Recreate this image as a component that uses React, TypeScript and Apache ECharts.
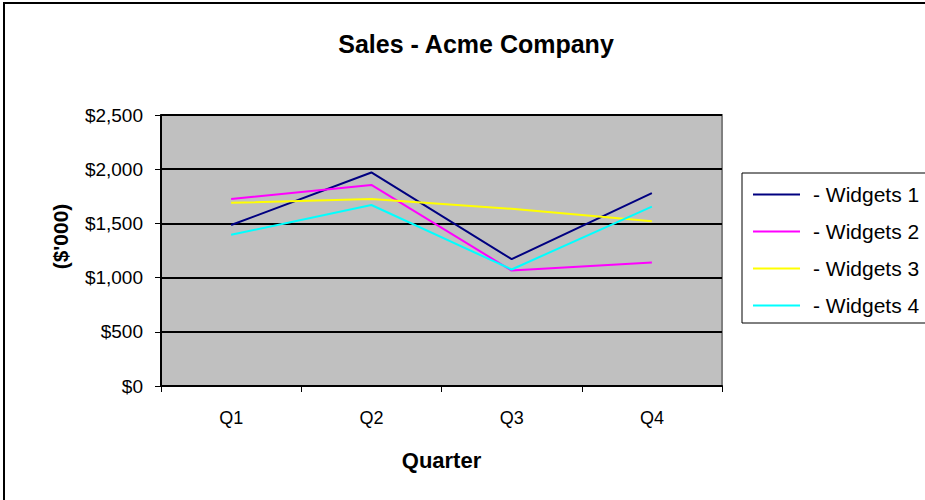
import React, { useEffect, useRef } from "react";
import * as echarts from "echarts";

const quarters = ["Q1", "Q2", "Q3", "Q4"];
const widgets1 = [1485, 1970, 1170, 1780];
const widgets2 = [1725, 1855, 1065, 1140];
const widgets3 = [1690, 1725, 1635, 1520];
const widgets4 = [1395, 1670, 1075, 1655];
const seriesNames = ["Widgets 1", "Widgets 2", "Widgets 3", "Widgets 4"];
const seriesColors = ["#000080", "#FF00FF", "#FFFF00", "#00FFFF"];
const yTicks = { min: 0, max: 2500, interval: 500 };

const FONT = "Arial, 'Liberation Sans', sans-serif";

export default function App() {
  const ref = useRef<HTMLDivElement>(null);
  useEffect(() => {
    if (!ref.current) return;
    const chart = echarts.init(ref.current, null, { renderer: "svg" });
    const data = [widgets1, widgets2, widgets3, widgets4];
    chart.setOption({
      animation: false,
      backgroundColor: "#ffffff",
      textStyle: { fontFamily: FONT },
      title: {
        text: "Sales - Acme Company",
        left: 471,
        top: 26,
        textAlign: "center",
        textStyle: { fontSize: 25, fontWeight: "bold", color: "#000", fontFamily: FONT },
      },
      graphic: [
        {
          type: "rect",
          shape: { x: 4, y: 3, width: 1000, height: 1000 },
          style: { fill: "none", stroke: "#000", lineWidth: 2 },
          silent: true,
          z: 100,
        },
        {
          type: "rect",
          shape: { x: 161, y: 115, width: 561, height: 271 },
          style: { fill: "none", stroke: "#808080", lineWidth: 2 },
          silent: true,
          z: 0,
        },
      ],
      legend: {
        orient: "vertical",
        left: 742,
        top: 173,
        padding: [11, 60, 7, 10],
        itemWidth: 47,
        itemHeight: 21,
        itemGap: 16,
        backgroundColor: "#ffffff",
        borderColor: "#000",
        borderWidth: 1,
        data: seriesNames,
        itemStyle: { opacity: 0 },
        lineStyle: { width: 2 },
        formatter: (name: string) => "- " + name,
        textStyle: { fontSize: 21, color: "#000", lineHeight: 21, padding: [0, 0, 0, 8], fontFamily: FONT },
      },
      grid: {
        left: 161,
        right: 203,
        top: 115,
        bottom: 114,
        show: true,
        backgroundColor: "#C0C0C0",
        borderWidth: 0,
      },
      xAxis: {
        type: "category",
        data: quarters,
        boundaryGap: true,
        name: "Quarter",
        nameLocation: "middle",
        nameGap: 63,
        nameTextStyle: { fontSize: 22, fontWeight: "bold", color: "#000", fontFamily: FONT },
        axisLine: { lineStyle: { color: "#000", width: 2 } },
        axisTick: { show: true, length: 6, lineStyle: { color: "#000", width: 1 } },
        axisLabel: { fontSize: 18, color: "#000", margin: 23, fontFamily: FONT },
        splitLine: { show: false },
      },
      yAxis: {
        type: "value",
        min: yTicks.min,
        max: yTicks.max,
        interval: yTicks.interval,
        name: "($'000)",
        nameLocation: "middle",
        nameGap: 90,
        nameTextStyle: {
          fontSize: 21,
          fontWeight: "bold",
          color: "#000",
          fontFamily: FONT,
          padding: [0, 0, 0, 28],
        },
        axisLine: { show: true, lineStyle: { color: "#000", width: 2 } },
        axisTick: { show: true, length: 6, lineStyle: { color: "#000", width: 1 } },
        axisLabel: {
          fontSize: 19,
          color: "#000",
          margin: 18,
          fontFamily: FONT,
          formatter: (v: number) => "$" + v.toLocaleString("en-US"),
        },
        splitLine: { show: true, lineStyle: { color: "#000", width: 2 } },
      },
      series: seriesNames.map((name, i) => ({
        name,
        type: "line",
        data: data[i],
        symbol: "none",
        color: seriesColors[i],
        lineStyle: { color: seriesColors[i], width: 2 },
      })),
    });
    return () => chart.dispose();
  }, []);
  return (
    <div
      ref={ref}
      style={{ position: "fixed", left: 0, top: 0, width: 925, height: 500 }}
    />
  );
}
